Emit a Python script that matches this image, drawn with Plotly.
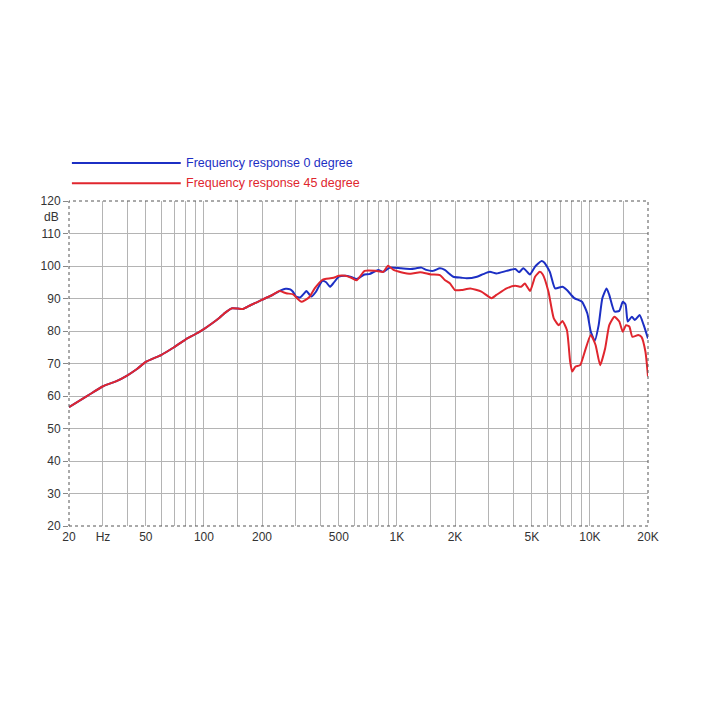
import plotly.graph_objects as go

# Shared low-frequency part (both curves coincide)
freq_low = [20, 25, 30, 35, 40, 45, 50, 60, 70, 80, 90, 100, 110, 120, 130, 140, 150, 160, 175]
spl_low = [56.6, 60.1, 63.0, 64.5, 66.3, 68.3, 70.5, 72.6, 75.0, 77.3, 79.0, 80.6, 82.3, 84.0, 85.8, 87.0, 86.9, 86.8, 88.0]

freq_0 = [200, 225, 250, 265, 280, 290, 300, 315, 330, 340, 360, 380, 410, 430, 450, 470, 500, 540, 580,
          620, 680, 720, 760, 800, 850, 920, 1050, 1180, 1260, 1340, 1420, 1540, 1670, 1770, 1880, 1960,
          2160, 2300, 2600, 2800, 3030, 3280, 3700, 4100, 4300, 4520, 4800, 4900, 5200, 5600, 5800, 6200,
          6600, 7200, 7600, 8300, 9100, 9700, 10100, 10600, 11100, 11600, 12200, 12600, 13400, 14200,
          14800, 15300, 15700, 16500, 17100, 18100, 19000, 20000]
spl_0 = [89.6, 91.0, 92.5, 93.0, 92.8, 92.0, 90.6, 90.3, 91.5, 92.3, 90.6, 92.0, 95.4, 95.0, 93.6, 94.8, 96.7, 97.0, 96.6,
         96.0, 97.4, 97.5, 98.2, 98.8, 98.2, 99.5, 99.3, 99.1, 99.3, 99.5, 98.8, 98.5, 99.3, 98.8, 97.5, 96.7,
         96.4, 96.2, 96.7, 97.5, 98.2, 97.7, 98.5, 99.1, 98.1, 99.3, 97.8, 97.4, 99.8, 101.5, 101.1, 98.2,
         93.1, 93.6, 92.6, 90.1, 89.0, 85.4, 79.8, 77.0, 81.8, 90.1, 93.1, 91.1, 86.0, 86.2,
         89.0, 88.2, 82.9, 84.4, 83.4, 84.9, 81.8, 77.7]

freq_45 = [200, 225, 247, 267, 290, 305, 320, 350, 375, 410, 425, 470, 500, 540, 580, 620, 680, 780, 850,
           900, 960, 1050, 1180, 1320, 1500, 1670, 1770, 1880, 2000, 2160, 2400, 2740, 3090, 3280, 3700,
           4100, 4400, 4600, 4900, 5200, 5500, 5700, 6100, 6500, 6900, 7200, 7600, 7900, 8100, 8400, 8900,
           9400, 10100, 10700, 11300, 12000, 12600, 13400, 14200, 14800, 15400, 16000, 16600, 17800, 18500,
           19400, 20000]
spl_45 = [89.6, 91.0, 92.3, 91.6, 91.3, 90.0, 89.0, 90.3, 93.1, 95.7, 96.0, 96.4, 97.0, 97.0, 96.4, 95.6, 98.5, 98.5, 98.2,
          100.1, 98.8, 98.1, 97.6, 98.1, 97.4, 97.2, 95.7, 94.7, 92.6, 92.6, 93.1, 92.1, 90.1, 91.1, 93.1,
          93.9, 93.6, 94.6, 92.3, 96.7, 98.2, 97.4, 92.1, 83.9, 81.8, 83.1, 80.3, 70.6, 67.5, 69.0, 69.5,
          73.6, 78.8, 75.7, 69.5, 74.7, 81.8, 84.4, 82.9, 79.8, 81.8, 81.4, 78.2, 78.8, 78.2,
          73.6, 66.0]

grid_freqs = [20, 30, 40, 50, 60, 70, 80, 90, 100, 150, 200, 300, 400, 500, 600, 700, 800, 900, 1000,
              1500, 2000, 3000, 4000, 5000, 6000, 7000, 8000, 9000, 10000, 15000, 20000]
grid_labels = {20: "20", 30: "Hz", 50: "50", 100: "100", 200: "200", 500: "500", 1000: "1K",
               2000: "2K", 5000: "5K", 10000: "10K", 20000: "20K"}
y_ticks = [20, 30, 40, 50, 60, 70, 80, 90, 100, 110, 120]

series_names = ["Frequency response 0 degree", "Frequency response 45 degree"]
blue = "#1c2fc4"
red = "#e0262e"

fig = go.Figure()
fig.add_trace(go.Scatter(x=freq_low + freq_0, y=spl_low + spl_0, mode="lines",
                         line=dict(color=blue, width=2, shape="spline", smoothing=0.5),
                         name=series_names[0], showlegend=False))
fig.add_trace(go.Scatter(x=freq_low + freq_45, y=spl_low + spl_45, mode="lines",
                         line=dict(color=red, width=2, shape="spline", smoothing=0.5),
                         name=series_names[1], showlegend=False))

font_family = "Liberation Sans, Arial, sans-serif"
tick_font = dict(family=font_family, size=12, color="#333333")

fig.update_xaxes(type="log", range=[1.30103, 4.30103],
                 tickmode="array", tickvals=grid_freqs,
                 ticktext=[grid_labels.get(f, "") for f in grid_freqs],
                 showgrid=True, gridcolor="#b4b4b4", gridwidth=1.3,
                 zeroline=False, showline=False, ticks="", tickfont=tick_font, ticklabelstandoff=2)
fig.update_yaxes(range=[20, 120], tickmode="array", tickvals=y_ticks,
                 showgrid=True, gridcolor="#b4b4b4", gridwidth=1.3,
                 zeroline=False, showline=False, ticks="outside", ticklen=5, tickcolor="#888888",
                 tickfont=tick_font)

# dotted plot border
border = dict(color="#555555", width=1, dash="dot")
fig.add_shape(type="rect", xref="paper", yref="paper", x0=0, x1=1, y0=0, y1=1, line=border)

# "dB" unit label
fig.add_annotation(xref="paper", yref="y", x=0, y=115.2, text="dB", showarrow=False,
                   xanchor="right", xshift=-8, font=tick_font)

# legend drawn manually
for i, (name, col) in enumerate(zip(series_names, [blue, red])):
    ypos = 1.117 - i * 0.062
    fig.add_shape(type="line", xref="paper", yref="paper", x0=0.005, x1=0.193, y0=ypos, y1=ypos,
                  line=dict(color=col, width=2))
    fig.add_annotation(xref="paper", yref="paper", x=0.199, y=ypos, text=name, showarrow=False,
                       xanchor="left", yanchor="middle",
                       font=dict(family=font_family, size=12.5, color=col))

fig.update_layout(width=703, height=703, margin=dict(l=69, r=55, t=201, b=177),
                  plot_bgcolor="white", paper_bgcolor="white", showlegend=False)

fig.write_html("out.html")
